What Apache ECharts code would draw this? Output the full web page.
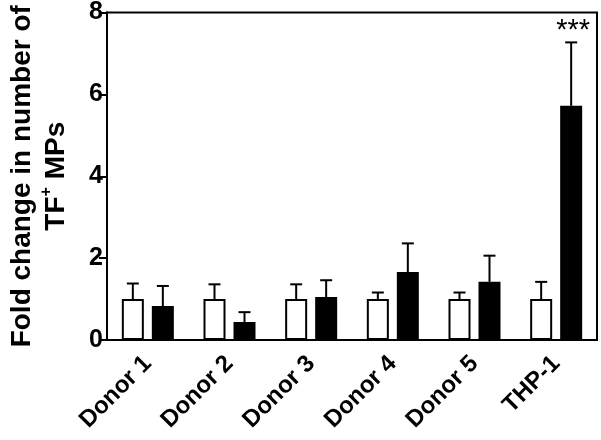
<!DOCTYPE html>
<html>
<head>
<meta charset="utf-8">
<script src="https://cdn.jsdelivr.net/npm/echarts@6/dist/echarts.min.js"></script>
<style>
html,body{margin:0;padding:0;background:#fff;}
#chart{width:601px;height:440px;}
</style>
</head>
<body>
<div id="chart"></div>
<script>
const categories = ['Donor 1', 'Donor 2', 'Donor 3', 'Donor 4', 'Donor 5', 'THP-1'];
const controlMean = [1.0, 1.0, 1.0, 1.0, 1.0, 1.0];
const controlSD = [0.38, 0.36, 0.36, 0.16, 0.16, 0.42];
const treatedMean = [0.83, 0.44, 1.05, 1.66, 1.42, 5.72];
const treatedSD = [0.49, 0.24, 0.41, 0.70, 0.64, 1.55];
const significance = ['', '', '', '', '', '***'];
const yTicks = [0, 2, 4, 6, 8];

const FONT = '"Liberation Sans", Arial, sans-serif';
const BAR_W = 22;
const BAR_GAP = 8;
const OFFSET = (BAR_W + BAR_GAP) / 2;

function errRender(means, sds, dx, labels) {
  return function (params, api) {
    const i = params.dataIndex;
    const base = api.coord([i, means[i]]);
    const top = api.coord([i, means[i] + sds[i]]);
    const x = base[0] + dx;
    const children = [
      { type: 'line', shape: { x1: x, y1: base[1], x2: x, y2: top[1] }, style: { stroke: '#000', lineWidth: 2 } },
      { type: 'line', shape: { x1: x - 6, y1: top[1], x2: x + 6, y2: top[1] }, style: { stroke: '#000', lineWidth: 2 } }
    ];
    if (labels && labels[i]) {
      children.push({
        type: 'text',
        style: { text: labels[i], x: x + 2, y: top[1] + 3, align: 'center', verticalAlign: 'bottom',
          fill: '#000', font: 'normal 29px ' + FONT }
      });
    }
    return { type: 'group', children: children };
  };
}

const chart = echarts.init(document.getElementById('chart'), null, { renderer: 'canvas' });
chart.setOption({
  animation: false,
  backgroundColor: '#fff',
  grid: { left: 102, right: 4, top: 9, bottom: 100, show: true, borderColor: '#000', borderWidth: 2 },
  xAxis: {
    type: 'category',
    data: categories,
    axisLine: { lineStyle: { color: '#000', width: 2 } },
    axisTick: { alignWithLabel: true, length: 6, lineStyle: { color: '#000', width: 2 } },
    axisLabel: { rotate: 45, margin: 20, color: '#000', fontSize: 24, fontWeight: 'bold', fontFamily: FONT, interval: 0 }
  },
  yAxis: {
    type: 'value',
    min: yTicks[0],
    max: yTicks[yTicks.length - 1],
    interval: 2,
    name: '{a|Fold change in number of}\n{a|TF}{s|+}{a| MPs}',
    nameLocation: 'middle',
    nameRotate: 90,
    nameGap: 34,
    nameTextStyle: {
      rich: {
        a: { fontSize: 28, fontWeight: 'bold', fontFamily: FONT, color: '#000', lineHeight: 34 },
        s: { fontSize: 16, fontWeight: 'bold', fontFamily: FONT, color: '#000', verticalAlign: 'top', lineHeight: 34 }
      }
    },
    splitLine: { show: false },
    axisLine: { show: true, lineStyle: { color: '#000', width: 2 } },
    axisTick: { show: true, length: 8, lineStyle: { color: '#000', width: 2 } },
    axisLabel: { margin: 4, color: '#000', fontSize: 25, fontWeight: 'bold', fontFamily: FONT }
  },
  series: [
    {
      type: 'bar', data: controlMean, barWidth: BAR_W, barGap: (BAR_GAP / BAR_W * 100) + '%',
      itemStyle: { color: '#fff', borderColor: '#000', borderWidth: 2 }
    },
    {
      type: 'bar', data: treatedMean, barWidth: BAR_W,
      itemStyle: { color: '#000', borderColor: '#000', borderWidth: 2 }
    },
    {
      type: 'custom', renderItem: errRender(controlMean, controlSD, -OFFSET, null),
      data: categories.map((c, i) => [i, controlMean[i] + controlSD[i]]), z: 3
    },
    {
      type: 'custom', renderItem: errRender(treatedMean, treatedSD, OFFSET, significance),
      data: categories.map((c, i) => [i, treatedMean[i] + treatedSD[i]]), z: 3
    }
  ]
});
</script>
</body>
</html>
